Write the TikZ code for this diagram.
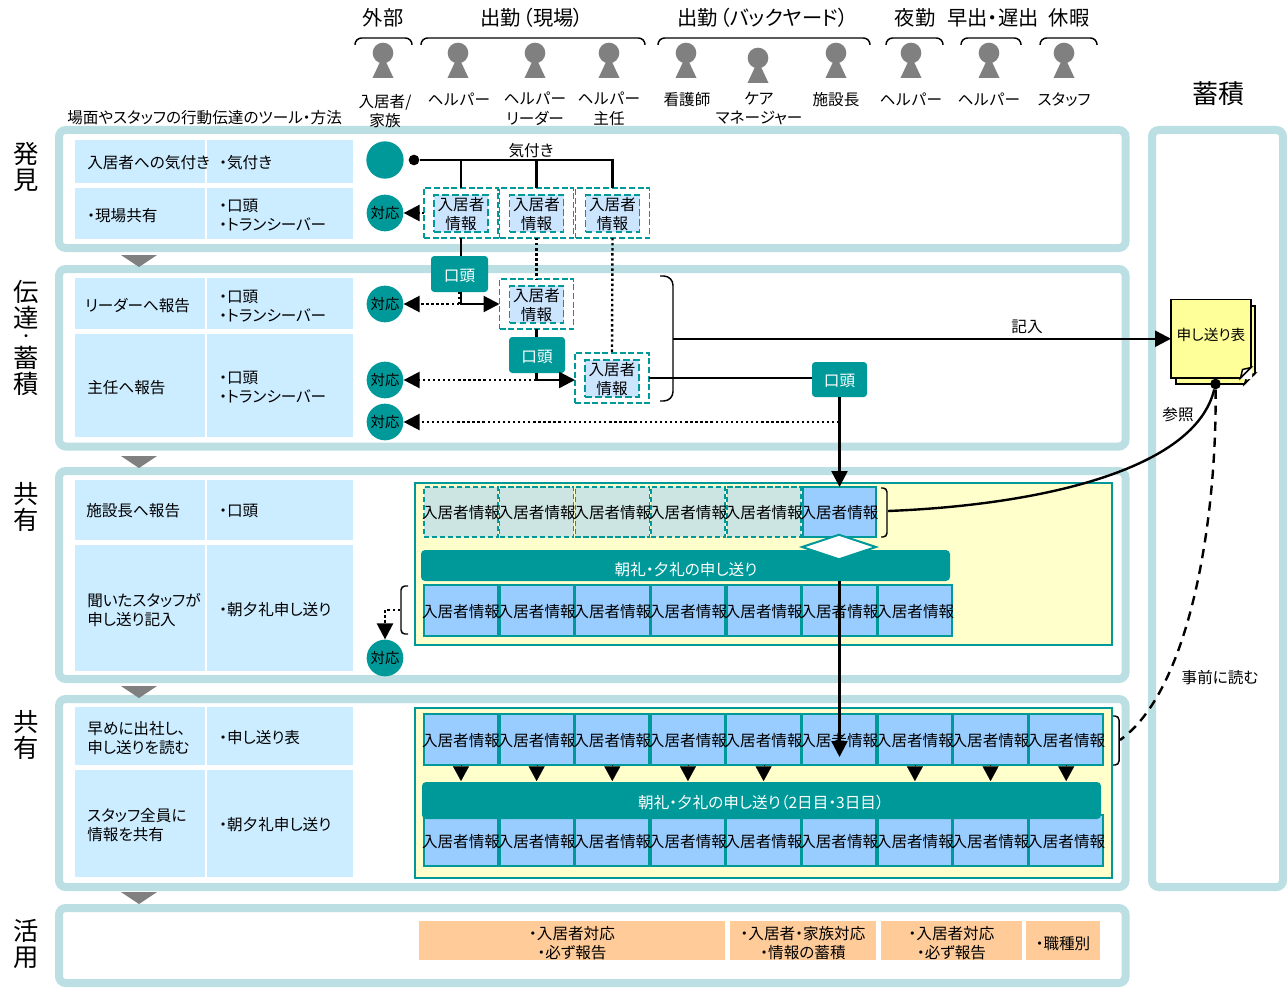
\documentclass[tikz,border=0pt]{standalone}
\usepackage{fontspec}
\setmainfont{Noto Sans CJK JP}[RawFeature=+palt]
\newfontfamily\npf{Noto Sans CJK JP}
\usetikzlibrary{arrows.meta,shapes.geometric,calc}
\definecolor{teal0}{HTML}{009999}
\definecolor{panelc}{HTML}{BBDFE2}
\definecolor{cellc}{HTML}{CCECFF}
\definecolor{infoc}{HTML}{CCE5FF}
\definecolor{blue0}{HTML}{99CCFF}
\definecolor{pale}{HTML}{CCE5E3}
\definecolor{yel}{HTML}{FFFFCC}
\definecolor{note}{HTML}{FFFF99}
\definecolor{oran}{HTML}{FFCC99}
\definecolor{grayp}{HTML}{808080}
\newcommand{\nd}{・}
\newcommand{\fs}{\fontsize{11.7}{14.4}\selectfont}
\newcommand{\boxat}[7]{\node[#2,anchor=north west,outer sep=0pt,minimum width={((#5)-(#3))*.75pt},minimum height={((#6)-(#4))*.75pt},inner sep=0pt] (#1) at (#3,#4) {#7};}
\newcommand{\cellat}[6]{\boxat{#1}{#2}{#3}{#4}{#5}{#6}{}\node[ctxt] (#1t) at (#1.center) {入居者情報};}
\tikzset{
 panel/.style={draw=panelc,line width=6pt,rounded corners=5pt,fill=white},
 lcell/.style={fill=cellc},
 txt/.style={font=\fs,align=left,inner sep=0pt,text=black,yshift=-.6pt},
 ctxt/.style={font=\fs,align=center,inner sep=0pt,text=black,yshift=-.6pt},
 wtxt/.style={font=\fs,text=white,inner sep=0pt,yshift=-.6pt},
 head/.style={font=\fontsize{15.2}{18}\selectfont,inner sep=0pt},
 vhead/.style={font=\fontsize{19}{19.5}\selectfont,align=center,inner sep=0pt},
 taiou/.style={circle,fill=teal0,minimum size=27.5pt,inner sep=0pt,font=\fontsize{10.8}{13}\selectfont},
 kuchi/.style={fill=teal0,rounded corners=2.5pt},
 outerd/.style={draw=teal0,line width=1.1pt,dash pattern=on 4.5pt off 2pt},
 innerd/.style={draw=teal0,line width=1.1pt,dash pattern=on 5pt off 2.5pt,fill=infoc},
 solidcell/.style={draw=teal0,line width=1.3pt,fill=blue0},
 dashcell/.style={draw=teal0,line width=1.1pt,dash pattern=on 4pt off 2pt,fill=pale},
 yelp/.style={draw=teal0,line width=1pt,fill=yel},
 bar/.style={fill=teal0,rounded corners=3pt},
 orange/.style={fill=oran},
 line/.style={draw=black,line width=1.8pt},
 thinl/.style={draw=black,line width=1.1pt},
 dotl/.style={draw=black,line width=1.8pt,dash pattern=on 1.8pt off 2pt},
 tip/.style={-{Triangle[width=12pt,length=12pt]}},
 brc/.style={draw=black,line width=1.1pt,rounded corners=5pt},
 grayt/.style={fill=grayp,draw=none},
 person/.style={fill=grayp,draw=none},
}
\newcommand{\personat}[3]{%
 \node[person,circle,minimum size=15.5pt,inner sep=0pt] (#1) at (#2,#3) {};
 \fill[grayp] (#2-3,#3+9) -- (#2+3,#3+9) -- (#2+10.5,#3+25) -- (#2-10.5,#3+25) -- cycle;}
\newcommand{\hbrace}[3]{\draw[brc] (#1,#3+7) -- (#1,#3) -- (#2,#3) -- (#2,#3+7);}
\newcommand{\infobox}[3]{%
 \boxat{#1}{outerd}{#2-37}{#3}{#2+37}{#3+50}{}
 \boxat{#1i}{innerd}{#2-27}{#3+7}{#2+27}{#3+44}{}
 \node[ctxt] (#1t) at (#2,#3+25.5) {入居者\\情報};}
\newcommand{\kuchibox}[5]{\boxat{#1}{kuchi}{#2}{#3}{#4}{#5}{}\node[wtxt] (#1t) at ($(#1.center)+(0,1)$) {口頭};}
\newcommand{\orbox}[4]{\boxat{#1}{orange}{#2}{921}{#3}{960}{}\node[ctxt] (#1t) at ($(#1.center)+(0,2)$) {#4};}
\begin{document}
\begin{tikzpicture}[x=.75pt,y=-.75pt]
\useasboundingbox (0,0) rectangle (1287,988);
\fill[white] (0,0) rectangle (1287,988);
% panels
\boxat{p1}{panel}{59}{130}{1125.5}{248}{}
\boxat{p2}{panel}{59}{269}{1125.5}{446.5}{}
\boxat{p3}{panel}{59}{471}{1125.5}{679}{}
\boxat{p4}{panel}{59}{699}{1125.5}{887}{}
\boxat{p5}{panel}{59}{908}{1125.5}{983}{}
\boxat{pr}{panel}{1152}{130}{1283}{887}{}
% gray triangles
\foreach \y in {255,456,686,892} \fill[grayt] (121,\y) -- (157,\y) -- (139,\y+12) -- cycle;
% left cells
\boxat{a1}{lcell}{75}{140}{205}{183}{}
\boxat{b1}{lcell}{207}{140}{353}{183}{}
\boxat{a2}{lcell}{75}{188}{205}{239}{}
\boxat{b2}{lcell}{207}{188}{353}{239}{}
\boxat{a3}{lcell}{75}{278}{205}{329}{}
\boxat{b3}{lcell}{207}{278}{353}{329}{}
\boxat{a4}{lcell}{75}{334}{205}{437}{}
\boxat{b4}{lcell}{207}{334}{353}{437}{}
\boxat{a5}{lcell}{75}{480}{205}{540}{}
\boxat{b5}{lcell}{207}{480}{353}{540}{}
\boxat{a6}{lcell}{75}{545}{205}{671}{}
\boxat{b6}{lcell}{207}{545}{353}{671}{}
\boxat{a7}{lcell}{75}{707}{205}{765}{}
\boxat{b7}{lcell}{207}{707}{353}{765}{}
\boxat{a8}{lcell}{75}{770}{205}{877}{}
\boxat{b8}{lcell}{207}{770}{353}{877}{}
% left cell text
\node[txt,anchor=west] (ta1) at (87,162) {入居者への気付き};
\node[txt,anchor=west] (tb1) at (219,162) {\nd 気付き};
\node[txt,anchor=west] (ta2) at (87,215) {\nd 現場共有};
\node[txt,anchor=west] (tb2) at (219,214.5) {\nd 口頭\\\nd トランシーバー};
\node[txt,anchor=west] (ta3) at (85,305) {リーダーへ報告};
\node[txt,anchor=west] (tb3) at (219,305) {\nd 口頭\\\nd トランシーバー};
\node[txt,anchor=west] (ta4) at (87,387) {主任へ報告};
\node[txt,anchor=west] (tb4) at (219,386.5) {\nd 口頭\\\nd トランシーバー};
\node[txt,anchor=west] (ta5) at (86,510) {施設長へ報告};
\node[txt,anchor=west] (tb5) at (219,510) {\nd 口頭};
\node[txt,anchor=west] (ta6) at (87,609) {聞いたスタッフが\\申し送り記入};
\node[txt,anchor=west] (tb6) at (219,609) {\nd 朝夕礼申し送り};
\node[txt,anchor=west] (ta7) at (87,737.5) {早めに出社し、\\申し送りを読む};
\node[txt,anchor=west] (tb7) at (219,737) {\nd 申し送り表};
\node[txt,anchor=west] (ta8) at (87,824.5) {スタッフ全員に\\情報を共有};
\node[txt,anchor=west] (tb8) at (219,824) {\nd 朝夕礼申し送り};
\node[txt,anchor=west] (tnote) at (67,117) {場面やスタッフの行動伝達のツール\nd 方法};
% vertical headings
\node[vhead] (v1) at (26,166.5) {発\\見};
\node[vhead] (v2a) at (26,305) {伝\\達};
\node[vhead,font=\fontsize{10.5}{10.5}\selectfont] (v2b) at (26,338) {\nd};
\node[vhead] (v2c) at (26,371) {蓄\\積};
\node[vhead] (v3) at (26,507) {共\\有};
\node[vhead] (v4) at (26,735) {共\\有};
\node[vhead] (v5) at (26,944) {活\\用};
\node[font=\fontsize{19.5}{20}\selectfont,inner sep=0pt] (vr) at (1218,94) {蓄積};
% top headings
\node[head] (h1) at (383,18) {外部};
\node[head] (h2) at (532,18) {出勤\hspace{1.5pt}（現場）\hspace{2pt}};
\node[head] (h3) at (763,18) {出勤\hspace{1pt}（バックヤード）\hspace{1pt}};
\node[head] (h4) at (915,18) {夜勤};
\node[head] (h5) at (993,18) {早出\nd 遅出};
\node[head] (h6) at (1069,18) {休暇};
\hbrace{355}{412}{38}
\hbrace{421}{645}{38}
\hbrace{658}{870}{38}
\hbrace{886}{943}{38}
\hbrace{961}{1021}{38}
\hbrace{1040}{1097}{38}
% persons
\personat{pa}{383}{53}
\personat{pb}{458}{53}
\personat{pc}{535}{53}
\personat{pd}{609}{53}
\personat{pe}{686}{53}
\personat{pf}{758}{58}
\personat{pg}{836}{53}
\personat{ph}{911}{53}
\personat{pi}{989}{53}
\personat{pj}{1064}{53}
\node[ctxt] (la) at (385,110) {入居者/\\家族};
\node[ctxt] (lb) at (459,99) {\npf ヘルパー};
\node[ctxt] (lc) at (535,108) {\npf ヘルパー\\リーダー};
\node[ctxt] (ld) at (609,108) {\npf ヘルパー\\主任};
\node[ctxt] (le) at (687,99) {看護師};
\node[ctxt] (lf) at (759,108) {ケア\\マネージャー};
\node[ctxt] (lg) at (836,99) {施設長};
\node[ctxt] (lh) at (911,99) {\npf ヘルパー};
\node[ctxt] (li) at (989,99) {\npf ヘルパー};
\node[ctxt] (lj) at (1064,99) {スタッフ};
% yellow panels
\boxat{y1}{yelp}{415}{483}{1112}{645}{}
\boxat{y2}{yelp}{415}{708}{1112}{878}{}
% cells
\foreach \i in {0,...,4} {\pgfmathsetmacro\xx{424+75.7*\i}\pgfmathsetmacro\xe{\xx+74}
 \cellat{ca\i}{dashcell}{\xx}{487}{\xe}{537}}
\cellat{ca5}{solidcell}{803}{487}{876}{537}
\foreach \i in {0,...,6} {\pgfmathsetmacro\xx{424+75.7*\i}\pgfmathsetmacro\xe{\xx+74}
 \cellat{cb\i}{solidcell}{\xx}{585}{\xe}{636}}
\foreach \i in {0,...,8} {\pgfmathsetmacro\xx{424+75.65*\i}\pgfmathsetmacro\xe{\xx+74}
 \cellat{cc\i}{solidcell}{\xx}{714}{\xe}{765}}
\foreach \i in {0,...,8} {\pgfmathsetmacro\xx{424+75.65*\i}\pgfmathsetmacro\xe{\xx+74}
 \cellat{cd\i}{solidcell}{\xx}{815}{\xe}{866}}
\boxat{bar1}{bar}{421}{550}{950}{581}{}
\node[wtxt] (bt1) at (686,569) {朝礼\nd 夕礼の申し送り};
\node[diamond,draw=teal0,line width=1.5pt,fill=white,minimum width=56pt,minimum height=19pt,inner sep=0pt,aspect=2.9] (dia) at (839,547) {};
\boxat{bar2}{bar}{422}{782}{1101}{819}{}
\node[wtxt] (bt2) at (761,802) {朝礼\nd 夕礼の申し送り（2日目\nd 3日目）};
% circles
\node[circle,fill=teal0,minimum size=28pt,inner sep=0pt] (c0) at (385,160) {};
\node[taiou] (t1) at (385,213) {対応};
\node[taiou] (t2) at (385,304) {対応};
\node[taiou] (t3) at (385,380) {対応};
\node[taiou] (t4) at (385,422) {対応};
\node[taiou] (t5) at (385,658) {対応};
% info boxes
\infobox{i1}{461}{188}
\infobox{i2}{536.5}{188}
\infobox{i3}{612.5}{188}
\infobox{i4}{536.5}{279}
\infobox{i5}{612}{353}
% kuchi boxes
\kuchibox{k1}{431}{256}{488}{292}
\kuchibox{k2}{509}{337}{565}{373}
\kuchibox{k3}{812}{362}{867}{397}
% note
\boxat{noteb}{fill=note,draw=black,line width=1.1pt}{1176}{306}{1255}{384}{}
\fill[white] (1244,385.5) -- (1256.5,385.5) -- (1256.5,373.5) -- cycle;
\draw[thinl,fill=note] (1244.5,384) -- (1255,373.5) -- (1247,376) -- cycle;
\boxat{note}{fill=note,draw=black,line width=1.1pt}{1171}{299.5}{1251}{378}{}
\fill[white] (1240.5,379) -- (1252,379) -- (1252,367.5) -- cycle;
\draw[thinl,fill=white] (1240.5,378) -- (1251,367.5) -- (1242.5,369.5) -- cycle;
\node[font=\fontsize{11}{13}\selectfont,inner sep=0pt] (notet) at (1211,335) {申し送り表};
\node[circle,fill=black,minimum size=8pt,inner sep=0pt] (d1) at (1215.5,384) {};
% row 1 connector
\node[circle,fill=black,minimum size=8pt,inner sep=0pt] (d0) at (414,160) {};
\coordinate (j1) at (461,160);\coordinate (j2) at (536.5,160);\coordinate (j3) at (612.5,160);
\draw[line] (d0) -- (j3) -- (i3.north);
\draw[line] (j1) -- (i1.north);
\draw[line] (j2) -- (i2.north);
\node[ctxt] (kz) at (531,150) {気付き};
\coordinate (e1) at (420,213);
\draw[dotl] (i1.west) -- (e1);
\draw[line,tip] (e1) -- (t1);
% 2nd group
\draw[line] (i1.south) -- (i1.south |- k1.north);
\coordinate (m1) at (461,304);
\coordinate (m1b) at (459,304);
\draw[line,tip] (m1 |- k1.south) -- (m1) -- (i4.west);
\draw[dotl] (m1b |- k1.south) -- (m1b);
\draw[dotl,tip] (m1b) -- (t2);
\draw[dotl] (i2.south) -- (i4.north);
\draw[line] (i4.south) -- (i4.south |- k2.north);
\coordinate (m2) at (536.5,380);
\draw[line,tip] (m2 |- k2.south) -- (m2) -- (m2 -| i5.west);
\draw[dotl,tip] (m2) -- (t3);
\draw[dotl] (i3.south) -- (i5.north);
% brace
\coordinate (br1) at (660,276);\coordinate (br2) at (660,401);
\coordinate (brm) at (673,338.75);
\draw[thinl,rounded corners=7pt] (br1) -- (673,276) -- (673,401) -- (br2);
\draw[line] (i5.east) -- (i5.east -| k3.west);
\draw[line,tip] (brm) -- (note.west);
\node[ctxt] (kn) at (1027,326) {記入};
\coordinate (m3) at (839.5,422);
\draw[line,tip] (k3.south) -- (ca5.north);
\draw[dotl,tip] (m3) -- (t4);
% row brace
\coordinate (r1) at (888,511);
\draw[thinl,rounded corners=3pt] (881,488) -- (887,488) -- (887,537) -- (881,537);
\draw[line] (r1) .. controls (1040,505) and (1195,470) .. (d1);
\node[ctxt] (sn) at (1178,414) {参照};
% left brace of row b
\coordinate (lb) at (400,610);\coordinate (lb2) at (385,610);
\draw[thinl,rounded corners=3pt] (408,586) -- (401,586) -- (401,634) -- (408,634);
\draw[dotl,tip] (lb) -- (lb2) -- (t5);
% long arrow
\coordinate (lg1) at (839.5,581);\coordinate (lg2) at (839.5,757);
\draw[line,tip] (lg1) -- (lg2);
% short arrows
\foreach \i in {0,1,2,3,4,6,7,8} {\draw[line width=.1pt,-{Triangle[width=12pt,length=11pt]}] (cc\i.south) -- ++(0,16);}
% right brace
\coordinate (r2) at (1120,740);
\draw[thinl,rounded corners=3pt] (1113,716) -- (1119,716) -- (1119,765) -- (1113,765);
\draw[line,dash pattern=on 7pt off 5pt] (d1) .. controls (1217,520) and (1190,690) .. (r2);
\node[ctxt] (jz) at (1220,677) {事前に読む};
% bottom
\orbox{o1}{419}{725}{\nd 入居者対応\\\nd 必ず報告}
\orbox{o2}{730}{876}{\nd 入居者\nd 家族対応\\\nd 情報の蓄積}
\orbox{o3}{881}{1022}{\nd 入居者対応\\\nd 必ず報告}
\orbox{o4}{1026}{1100}{\nd 職種別}
\end{tikzpicture}
\end{document}
